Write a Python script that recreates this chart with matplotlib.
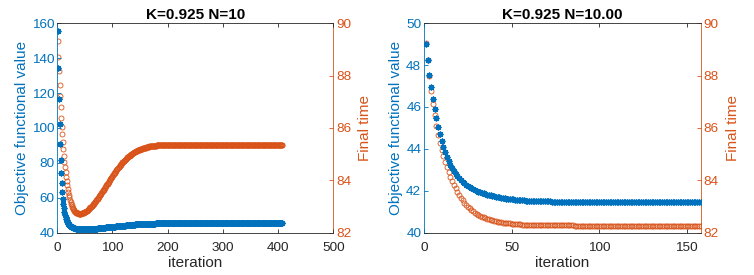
import matplotlib.pyplot as plt
import numpy as np

plt.rcParams['font.family'] = ['Liberation Sans', 'DejaVu Sans']

BLUE = '#0072BD'
ORANGE = '#D95319'
GREY = '#262626'

TITLES = ['K=0.925 N=10', 'K=0.925 N=10.00']
XLABEL = 'iteration'
YLABEL_LEFT = 'Objective functional value'
YLABEL_RIGHT = 'Final time'

# run 1 (left panel): objective functional value per iteration
obj_1 = [
    155.4, 134.3, 116.6, 102.3, 90.9, 81.5, 74.3, 68.2, 63.2, 59.4,
    56.2, 53.8, 51.8, 50.2, 48.9, 47.8, 46.9, 46.2, 45.6, 45.1,
    44.6, 44.2, 43.9, 43.6, 43.4, 43.2, 43.0, 42.9, 42.7, 42.6,
    42.5, 42.4, 42.3, 42.3, 42.2, 42.2, 42.1, 42.1, 42.0, 42.0,
    41.9, 41.9, 41.9, 41.9, 41.9, 41.9, 41.9, 41.9, 41.9, 41.9,
    41.9, 41.9, 41.9, 41.9, 41.9, 42.0, 42.0, 42.0, 42.0, 42.0,
    42.0, 42.0, 42.1, 42.1, 42.1, 42.1, 42.2, 42.2, 42.2, 42.3,
    42.3, 42.3, 42.4, 42.4, 42.4, 42.5, 42.5, 42.5, 42.6, 42.6,
    42.6, 42.7, 42.7, 42.7, 42.8, 42.8, 42.8, 42.9, 42.9, 42.9,
    43.0, 43.0, 43.0, 43.1, 43.1, 43.1, 43.2, 43.2, 43.2, 43.3,
    43.3, 43.3, 43.4, 43.4, 43.4, 43.5, 43.5, 43.5, 43.6, 43.6,
    43.6, 43.7, 43.7, 43.7, 43.8, 43.8, 43.8, 43.9, 43.9, 43.9,
    44.0, 44.0, 44.0, 44.1, 44.1, 44.1, 44.2, 44.2, 44.2, 44.3,
    44.3, 44.3, 44.3, 44.4, 44.4, 44.4, 44.5, 44.5, 44.5, 44.5,
    44.6, 44.6, 44.6, 44.6, 44.7, 44.7, 44.7, 44.7, 44.8, 44.8,
    44.8, 44.8, 44.8, 44.9, 44.9, 44.9, 44.9, 44.9, 45.0, 45.0,
    45.0, 45.0, 45.0, 45.0, 45.0, 45.1, 45.1, 45.1, 45.1, 45.1,
    45.1, 45.1, 45.1, 45.1, 45.1, 45.1, 45.1, 45.2, 45.2, 45.2,
    45.2, 45.2, 45.2, 45.2, 45.2, 45.2, 45.2, 45.2, 45.2, 45.2,
    45.2, 45.2, 45.2, 45.2, 45.2, 45.2, 45.2, 45.2, 45.2, 45.2,
    45.2, 45.2, 45.2, 45.2, 45.2, 45.2, 45.2, 45.2, 45.2, 45.2,
    45.2, 45.2, 45.2, 45.2, 45.2, 45.2, 45.2, 45.2, 45.2, 45.2,
    45.2, 45.2, 45.2, 45.2, 45.2, 45.2, 45.2, 45.2, 45.2, 45.2,
    45.2, 45.2, 45.2, 45.2, 45.2, 45.2, 45.2, 45.2, 45.2, 45.2,
    45.2, 45.2, 45.2, 45.2, 45.2, 45.2, 45.2, 45.2, 45.2, 45.2,
    45.2, 45.2, 45.2, 45.2, 45.2, 45.2, 45.2, 45.2, 45.2, 45.2,
    45.2, 45.2, 45.2, 45.2, 45.2, 45.2, 45.2, 45.2, 45.2, 45.2,
    45.2, 45.2, 45.2, 45.2, 45.2, 45.2, 45.2, 45.2, 45.2, 45.2,
    45.2, 45.2, 45.2, 45.2, 45.2, 45.2, 45.2, 45.2, 45.2, 45.2,
    45.2, 45.2, 45.2, 45.2, 45.2, 45.2, 45.2, 45.2, 45.2, 45.2,
    45.2, 45.2, 45.2, 45.2, 45.2, 45.2, 45.2, 45.2, 45.2, 45.2,
    45.2, 45.2, 45.2, 45.2, 45.2, 45.2, 45.2, 45.2, 45.2, 45.2,
    45.2, 45.2, 45.2, 45.2, 45.2, 45.2, 45.2, 45.2, 45.2, 45.2,
    45.2, 45.2, 45.2, 45.2, 45.2, 45.2, 45.2, 45.2, 45.2, 45.2,
    45.2, 45.2, 45.2, 45.2, 45.2, 45.2, 45.2, 45.2, 45.2, 45.2,
    45.2, 45.2, 45.2, 45.2, 45.2, 45.2, 45.2, 45.2, 45.2, 45.2,
    45.2, 45.2, 45.2, 45.2, 45.2, 45.2, 45.2, 45.2, 45.2, 45.2,
    45.2, 45.2, 45.2, 45.2, 45.2, 45.2, 45.2, 45.2, 45.2, 45.2,
    45.2, 45.2, 45.2, 45.2, 45.2, 45.2, 45.2, 45.2, 45.2, 45.2,
    45.2, 45.2, 45.2, 45.2, 45.2, 45.2, 45.2, 45.2, 45.2, 45.2,
    45.2, 45.2, 45.2, 45.2, 45.2, 45.2, 45.2, 45.2,
]

# run 1 (left panel): final time per iteration
tf_1 = [
    89.33, 88.72, 88.18, 87.66, 87.21, 86.79, 86.39, 86.05, 85.75, 85.45,
    85.18, 84.93, 84.70, 84.49, 84.30, 84.12, 83.96, 83.81, 83.67, 83.55,
    83.44, 83.34, 83.25, 83.17, 83.10, 83.04, 82.98, 82.93, 82.89, 82.85,
    82.82, 82.80, 82.78, 82.76, 82.75, 82.74, 82.73, 82.73, 82.72, 82.72,
    82.72, 82.72, 82.72, 82.73, 82.73, 82.74, 82.75, 82.76, 82.77, 82.78,
    82.80, 82.81, 82.83, 82.84, 82.86, 82.88, 82.90, 82.92, 82.94, 82.96,
    82.98, 83.00, 83.03, 83.05, 83.08, 83.10, 83.13, 83.15, 83.18, 83.21,
    83.24, 83.27, 83.30, 83.33, 83.36, 83.39, 83.42, 83.45, 83.48, 83.51,
    83.54, 83.58, 83.61, 83.64, 83.67, 83.71, 83.74, 83.77, 83.81, 83.84,
    83.87, 83.91, 83.94, 83.97, 84.01, 84.04, 84.07, 84.10, 84.13, 84.17,
    84.20, 84.23, 84.26, 84.29, 84.32, 84.35, 84.38, 84.41, 84.44, 84.47,
    84.50, 84.52, 84.55, 84.58, 84.60, 84.63, 84.65, 84.68, 84.70, 84.72,
    84.75, 84.77, 84.79, 84.81, 84.83, 84.85, 84.87, 84.89, 84.91, 84.93,
    84.94, 84.96, 84.98, 84.99, 85.01, 85.02, 85.04, 85.05, 85.06, 85.08,
    85.09, 85.10, 85.11, 85.12, 85.13, 85.14, 85.15, 85.16, 85.17, 85.18,
    85.19, 85.20, 85.21, 85.21, 85.22, 85.23, 85.23, 85.24, 85.25, 85.25,
    85.26, 85.26, 85.27, 85.27, 85.28, 85.28, 85.29, 85.29, 85.29, 85.30,
    85.30, 85.30, 85.31, 85.31, 85.31, 85.32, 85.32, 85.32, 85.32, 85.33,
    85.33, 85.33, 85.33, 85.33, 85.34, 85.34, 85.34, 85.34, 85.34, 85.34,
    85.34, 85.34, 85.34, 85.34, 85.34, 85.35, 85.35, 85.35, 85.35, 85.35,
    85.35, 85.35, 85.35, 85.35, 85.35, 85.35, 85.35, 85.35, 85.35, 85.35,
    85.35, 85.35, 85.35, 85.35, 85.35, 85.35, 85.35, 85.35, 85.35, 85.35,
    85.35, 85.35, 85.35, 85.35, 85.35, 85.35, 85.35, 85.35, 85.35, 85.35,
    85.35, 85.35, 85.35, 85.35, 85.35, 85.35, 85.35, 85.35, 85.35, 85.35,
    85.35, 85.35, 85.35, 85.35, 85.35, 85.35, 85.35, 85.35, 85.35, 85.35,
    85.35, 85.35, 85.35, 85.35, 85.35, 85.35, 85.35, 85.35, 85.35, 85.35,
    85.35, 85.35, 85.35, 85.35, 85.35, 85.35, 85.35, 85.35, 85.35, 85.35,
    85.35, 85.35, 85.35, 85.35, 85.35, 85.35, 85.35, 85.35, 85.35, 85.35,
    85.35, 85.35, 85.35, 85.35, 85.35, 85.35, 85.35, 85.35, 85.35, 85.35,
    85.35, 85.35, 85.35, 85.35, 85.35, 85.35, 85.35, 85.35, 85.35, 85.35,
    85.35, 85.35, 85.35, 85.35, 85.35, 85.35, 85.35, 85.35, 85.35, 85.35,
    85.35, 85.35, 85.35, 85.35, 85.35, 85.35, 85.35, 85.35, 85.35, 85.35,
    85.35, 85.35, 85.35, 85.35, 85.35, 85.35, 85.35, 85.35, 85.35, 85.35,
    85.35, 85.35, 85.35, 85.35, 85.35, 85.35, 85.35, 85.35, 85.35, 85.35,
    85.35, 85.35, 85.35, 85.35, 85.35, 85.35, 85.35, 85.35, 85.35, 85.35,
    85.35, 85.35, 85.35, 85.35, 85.35, 85.35, 85.35, 85.35, 85.35, 85.35,
    85.35, 85.35, 85.35, 85.35, 85.35, 85.35, 85.35, 85.35, 85.35, 85.35,
    85.35, 85.35, 85.35, 85.35, 85.35, 85.35, 85.35, 85.35, 85.35, 85.35,
    85.35, 85.35, 85.35, 85.35, 85.35, 85.35, 85.35, 85.35, 85.35, 85.35,
    85.35, 85.35, 85.35, 85.35, 85.35, 85.35, 85.35, 85.35, 85.35, 85.35,
    85.35, 85.35, 85.35, 85.35, 85.35, 85.35, 85.35, 85.35,
]

# run 2 (right panel): objective functional value per iteration
obj_2 = [
    49.01, 48.23, 47.55, 46.94, 46.40, 45.90, 45.46, 45.06, 44.71, 44.39,
    44.10, 43.85, 43.61, 43.40, 43.21, 43.06, 42.93, 42.81, 42.70, 42.60,
    42.51, 42.43, 42.36, 42.29, 42.23, 42.18, 42.13, 42.08, 42.04, 42.00,
    41.96, 41.93, 41.90, 41.87, 41.84, 41.81, 41.79, 41.77, 41.75, 41.73,
    41.71, 41.69, 41.68, 41.66, 41.65, 41.64, 41.62, 41.61, 41.60, 41.59,
    41.58, 41.57, 41.56, 41.56, 41.55, 41.54, 41.54, 41.53, 41.53, 41.52,
    41.52, 41.52, 41.51, 41.51, 41.51, 41.50, 41.50, 41.50, 41.49, 41.49,
    41.49, 41.49, 41.48, 41.48, 41.48, 41.48, 41.48, 41.47, 41.47, 41.47,
    41.47, 41.47, 41.47, 41.47, 41.47, 41.47, 41.47, 41.47, 41.47, 41.47,
    41.47, 41.47, 41.47, 41.47, 41.47, 41.46, 41.46, 41.46, 41.46, 41.46,
    41.46, 41.46, 41.46, 41.46, 41.46, 41.46, 41.46, 41.46, 41.46, 41.46,
    41.46, 41.46, 41.46, 41.46, 41.46, 41.46, 41.46, 41.46, 41.46, 41.46,
    41.46, 41.46, 41.46, 41.46, 41.46, 41.46, 41.46, 41.46, 41.46, 41.46,
    41.46, 41.46, 41.46, 41.46, 41.46, 41.46, 41.46, 41.46, 41.46, 41.46,
    41.46, 41.46, 41.46, 41.46, 41.46, 41.46, 41.46, 41.46, 41.46, 41.46,
    41.46, 41.46, 41.46, 41.46, 41.46, 41.46, 41.46, 41.46,
]

# run 2 (right panel): final time per iteration
tf_2 = [
    89.26, 88.60, 87.98, 87.42, 86.93, 86.49, 86.09, 85.74, 85.43, 85.16,
    84.92, 84.70, 84.50, 84.31, 84.14, 83.98, 83.83, 83.69, 83.56, 83.44,
    83.33, 83.23, 83.14, 83.06, 82.99, 82.92, 82.86, 82.81, 82.76, 82.72,
    82.68, 82.65, 82.61, 82.58, 82.56, 82.53, 82.51, 82.49, 82.47, 82.45,
    82.44, 82.42, 82.41, 82.40, 82.38, 82.37, 82.36, 82.35, 82.35, 82.34,
    82.33, 82.32, 82.32, 82.31, 82.31, 82.30, 82.30, 82.29, 82.29, 82.29,
    82.28, 82.28, 82.28, 82.28, 82.28, 82.28, 82.27, 82.27, 82.27, 82.27,
    82.27, 82.27, 82.27, 82.27, 82.27, 82.27, 82.27, 82.27, 82.27, 82.27,
    82.27, 82.27, 82.27, 82.27, 82.27, 82.26, 82.26, 82.26, 82.26, 82.26,
    82.26, 82.26, 82.26, 82.26, 82.26, 82.26, 82.26, 82.26, 82.26, 82.26,
    82.26, 82.26, 82.26, 82.26, 82.26, 82.26, 82.26, 82.26, 82.26, 82.26,
    82.26, 82.26, 82.26, 82.26, 82.26, 82.26, 82.26, 82.26, 82.26, 82.26,
    82.26, 82.26, 82.26, 82.26, 82.26, 82.26, 82.26, 82.26, 82.26, 82.26,
    82.26, 82.26, 82.26, 82.26, 82.26, 82.26, 82.26, 82.26, 82.26, 82.26,
    82.26, 82.26, 82.26, 82.26, 82.26, 82.26, 82.26, 82.26, 82.26, 82.26,
    82.26, 82.26, 82.26, 82.26, 82.26, 82.26, 82.26, 82.26,
]

XLIMS = [(0, 500), (0, 158)]
XTICKS = [[0, 100, 200, 300, 400, 500], [0, 50, 100, 150]]
YLIMS_LEFT = [(40, 160), (40, 50)]
YTICKS_LEFT = [[40, 60, 80, 100, 120, 140, 160], [40, 42, 44, 46, 48, 50]]
YLIM_RIGHT = (82, 90)
YTICKS_RIGHT = [82, 84, 86, 88, 90]

TICK_FS = 9.7
LABEL_FS = 11


def draw_panel(ax, obj, tf, title, xlim, xticks, ylim, yticks):
    it_obj = np.arange(1, len(obj) + 1)
    it_tf = np.arange(1, len(tf) + 1)

    ax2 = ax.twinx()
    ax2.plot(it_tf, tf, ls='none', marker='o', ms=3.6, mfc='none',
             mec=ORANGE, mew=0.6)
    ax.plot(it_obj, obj, ls='none', marker=(8, 2, 0), ms=4.2, mew=1.0,
            color=BLUE)
    ax.set_zorder(ax2.get_zorder() + 1)
    ax.patch.set_visible(False)

    ax.set_xlim(*xlim)
    ax.set_xticks(xticks)
    ax.set_ylim(*ylim)
    ax.set_yticks(yticks)
    ax2.set_ylim(*YLIM_RIGHT)
    ax2.set_yticks(YTICKS_RIGHT)

    ax.tick_params(axis='x', direction='in', top=True, length=3, width=0.6,
                   colors=GREY, labelsize=TICK_FS, pad=7)
    ax.tick_params(axis='y', direction='in', length=3, width=0.6,
                   colors=BLUE, labelsize=TICK_FS, pad=2)
    ax2.tick_params(axis='y', direction='in', length=3, width=0.6,
                    colors=ORANGE, labelsize=TICK_FS, pad=2)

    for side in ['top', 'bottom']:
        ax.spines[side].set_color(GREY)
        ax.spines[side].set_linewidth(0.6)
    ax.spines['left'].set_color(BLUE)
    ax.spines['left'].set_linewidth(0.6)
    ax.spines['right'].set_visible(False)
    for side in ['top', 'bottom', 'left']:
        ax2.spines[side].set_visible(False)
    ax2.spines['right'].set_color(ORANGE)
    ax2.spines['right'].set_linewidth(0.6)

    ax.set_title(title, fontsize=LABEL_FS, fontweight='bold', pad=3)
    ax.set_xlabel(XLABEL, fontsize=LABEL_FS, color=GREY, labelpad=1)
    ax.set_ylabel(YLABEL_LEFT, fontsize=LABEL_FS, color=BLUE, labelpad=2)
    ax2.set_ylabel(YLABEL_RIGHT, fontsize=LABEL_FS, color=ORANGE, labelpad=5)


fig = plt.figure(figsize=(7.54, 2.75), dpi=100)
ax_a = fig.add_axes([0.0760, 0.1545, 0.3660, 0.7607])
ax_b = fig.add_axes([0.5625, 0.1545, 0.3668, 0.7607])

draw_panel(ax_a, obj_1, tf_1, TITLES[0], XLIMS[0], XTICKS[0],
           YLIMS_LEFT[0], YTICKS_LEFT[0])
draw_panel(ax_b, obj_2, tf_2, TITLES[1], XLIMS[1], XTICKS[1],
           YLIMS_LEFT[1], YTICKS_LEFT[1])

fig.savefig('out.png', dpi=100)
